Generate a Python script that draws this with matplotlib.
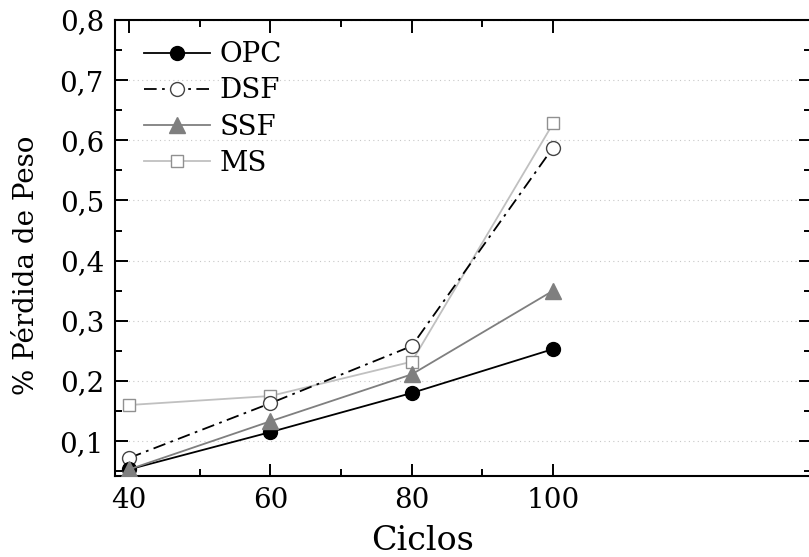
import matplotlib
matplotlib.use("Agg")
import matplotlib.pyplot as plt
from matplotlib.ticker import MultipleLocator, FixedLocator, FuncFormatter

ciclos = [40, 60, 80, 100]
minor_x = [50, 70, 90]
opc = [0.053, 0.115, 0.180, 0.253]
dsf = [0.072, 0.163, 0.258, 0.588]
ssf = [0.053, 0.133, 0.211, 0.350]
ms = [0.160, 0.175, 0.232, 0.628]

plt.rcParams['font.family'] = ['DejaVu Serif']

fig = plt.figure(figsize=(8.09, 5.57), dpi=100)
ax = fig.add_axes([115 / 809, 1 - 476 / 557, (811 - 115) / 809, (476 - 20) / 557])

ax.plot(ciclos, opc, color='black', lw=1.3, marker='o', ms=10,
        mfc='black', mec='black', label='OPC', zorder=5)
ax.plot(ciclos, dsf, color='black', lw=1.3, ls=(0, (7, 3, 1.5, 3)), marker='o', ms=10,
        mfc='white', mec='#444444', mew=1.0, label='DSF', zorder=4)
ax.plot(ciclos, ssf, color='#7f7f7f', lw=1.3, marker='^', ms=11,
        mfc='#7f7f7f', mec='#7f7f7f', label='SSF', zorder=6)
ax.plot(ciclos, ms, color='#c0c0c0', lw=1.3, marker='s', ms=9,
        mfc='white', mec='#909090', mew=1.0, label='MS', zorder=3)

ax.set_xlim(38.0, 136.5)
ax.set_ylim(0.042, 0.8)
ax.set_xticks(ciclos)
ax.xaxis.set_minor_locator(FixedLocator(minor_x))
ax.yaxis.set_major_locator(MultipleLocator(0.1))
ax.yaxis.set_minor_locator(MultipleLocator(0.05))
ax.yaxis.set_major_formatter(FuncFormatter(lambda v, p: f"{v:.1f}".replace('.', ',')))

ax.tick_params(which='both', direction='in', top=True, right=True, width=1.4, labelsize=20)
ax.tick_params(which='major', length=9, pad=8)
ax.tick_params(which='minor', length=5)
for s in ax.spines.values():
    s.set_linewidth(1.5)

ax.grid(axis='y', which='major', color='#c8c8c8', ls=(0, (1, 3)), lw=0.8)
ax.set_axisbelow(True)

ax.set_xlabel('Ciclos', fontsize=24, va='bottom')
ax.xaxis.set_label_coords((423 - 115) / 696, -(557 - 476) / 456)
ax.set_ylabel('% Pérdida de Peso', fontsize=20, va='center')
ax.yaxis.set_label_coords(-(115 - 27) / 696, (476 - 265) / 456)

ax.legend(loc='upper left', frameon=False, fontsize=20, handlelength=2.35,
          handletextpad=0.36, labelspacing=0.33, borderaxespad=0.3,
          bbox_to_anchor=(0.0144, 0.996))

fig.savefig('out.png', dpi=100)
